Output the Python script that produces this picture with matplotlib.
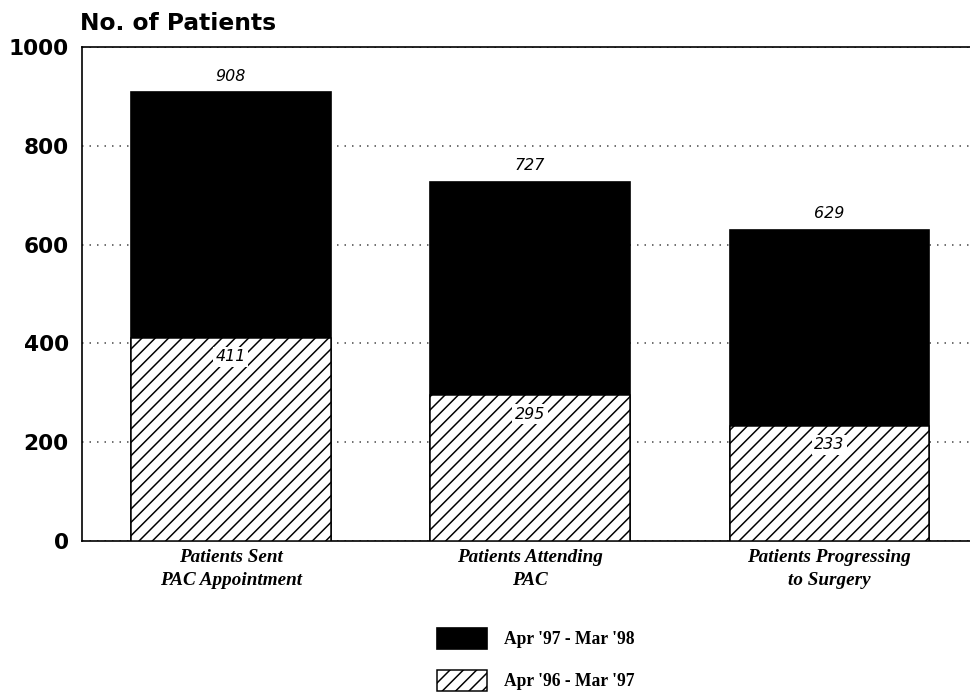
import matplotlib
matplotlib.use('Agg')
import matplotlib.pyplot as plt
from matplotlib.patches import Patch

categories = ['Patients Sent\nPAC Appointment', 'Patients Attending\nPAC', 'Patients Progressing\nto Surgery']
recent = [908, 727, 629]      # Apr '97 - Mar '98
previous = [411, 295, 233]    # Apr '96 - Mar '97
yticks = [0, 200, 400, 600, 800, 1000]
legend_labels = ["Apr '97 - Mar '98", "Apr '96 - Mar '97"]

plt.rcParams['hatch.linewidth'] = 0.9

fig = plt.figure(figsize=(970 / 120, 697 / 120), dpi=120)
ax = fig.add_axes([82 / 970, 1 - 541 / 697, 1 - 82 / 970, (541 - 47) / 697])

x = list(range(len(categories)))
width = 0.667

ax.bar(x, recent, width=width, color='black', edgecolor='black', zorder=2)
ax.bar(x, previous, width=width, color='white', edgecolor='black',
       hatch='///', linewidth=0.9, zorder=3)

for i in x:
    ax.text(i, recent[i] + 18, str(recent[i]), ha='center', va='bottom',
            fontsize=9.5, style='italic', zorder=4)
    ax.text(i, previous[i] - 38, str(previous[i]), ha='center', va='center',
            fontsize=9.5, style='italic', zorder=4,
            bbox=dict(facecolor='white', edgecolor='none', pad=1.5))

ax.set_xlim(-0.497, 2.47)
ax.set_ylim(0, 1000)
ax.set_yticks(yticks)
ax.set_yticklabels([str(t) for t in yticks], fontsize=13, fontweight='bold')
ax.tick_params(axis='y', length=0, pad=8)
ax.set_xticks(x)
ax.set_xticklabels(categories, fontsize=11.5, fontweight='bold', style='italic',
                   family='Liberation Serif', linespacing=1.45)
ax.tick_params(axis='x', length=0, pad=5)

ax.yaxis.grid(True, linestyle=(0, (1, 4)), color='#444444', linewidth=0.9, zorder=1)
ax.set_axisbelow(True)
ax.spines['right'].set_visible(False)
for s in ['left', 'top', 'bottom']:
    ax.spines[s].set_linewidth(1.0)

fig.text(80 / 970, 1 - 30 / 697, 'No. of Patients', fontsize=14, fontweight='bold',
         va='baseline', ha='left')

handles = [Patch(facecolor='black', edgecolor='black'),
           Patch(facecolor='white', edgecolor='black', hatch='///', linewidth=0.9)]
fig.legend(handles, legend_labels, loc='upper left',
           bbox_to_anchor=(437 / 970, 1 - 628 / 697), frameon=False,
           borderpad=0, borderaxespad=0, handlelength=2.85, handleheight=1.45,
           handletextpad=1.0, labelspacing=1.2,
           prop=dict(family='Liberation Serif', weight='bold', size=10.5))

fig.savefig('out.png', dpi=120)
